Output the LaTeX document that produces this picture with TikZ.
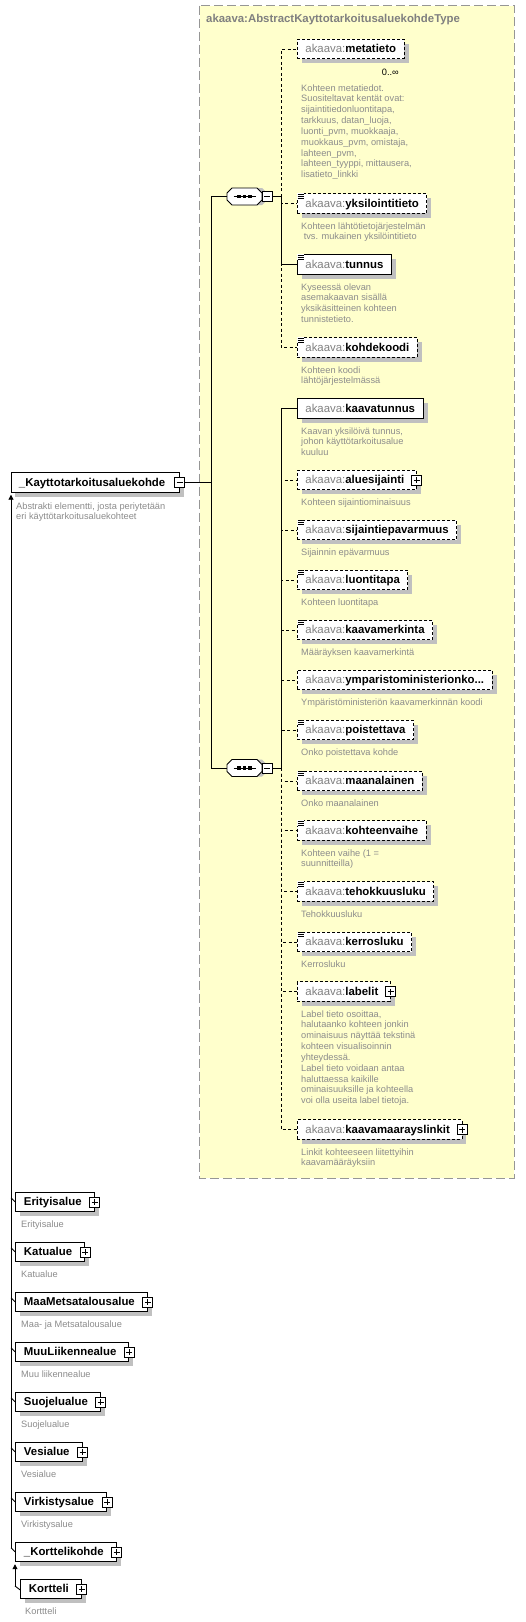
\documentclass[tikz,border=0pt]{standalone}
\usepackage{fontspec}
\setmainfont{Liberation Sans}
\usetikzlibrary{arrows.meta,shadows}
\definecolor{ybg}{RGB}{255,255,204}
\definecolor{ybord}{RGB}{150,150,150}
\definecolor{pfxcol}{RGB}{128,128,128}
\definecolor{desccol}{RGB}{140,140,140}
\definecolor{shadowgray}{RGB}{192,192,192}
\newcommand\akp{{\mdseries\color{pfxcol}akaava:}}
\newcommand\padr{\rule{4pt}{0pt}}
\newcommand\dlines[1]{\begin{tabular}[t]{@{}l@{}}#1\end{tabular}}
\newcommand\simpleicon[1]{\fill[white] ([xshift=0.2pt,yshift=0.3pt]#1.north west) rectangle ++(7,5.5);\foreach \dd in {0.6,2.6,4.6}{\draw[line width=0.7pt] ([xshift=0.6pt,yshift=-\dd pt]#1.north west) -- ++(6.5,0);}}
\newcommand\seqdraw[2]{%
\begin{scope}[shift={(#1,#2)}]
\fill[shadowgray] (-12.5,-3.5) -- (-7.5,-8.5) -- (17.5,-8.5) -- (22.5,-3.5) -- (22.5,3.5) -- (17.5,8.5) -- (-7.5,8.5) -- (-12.5,3.5) -- cycle;
\draw[line width=0.9pt, fill=white] (-17.5,-3.5) -- (-12.5,-8.5) -- (12.5,-8.5) -- (17.5,-3.5) -- (17.5,3.5) -- (12.5,8.5) -- (-12.5,8.5) -- (-17.5,3.5) -- cycle;
\draw[line width=0.9pt] (-11,0) -- (11,0);
\foreach \sx in {-5.5,0,5.5}{\fill (\sx-1.7,-1.7) rectangle (\sx+1.7,1.7);}
\end{scope}}
\tikzset{
 elembase/.style={fill=white, line width=0.9pt, anchor=west, minimum height=19.5pt, inner xsep=8pt, inner ysep=0pt, text height=8.5pt, text depth=1.5pt, font=\fontsize{11.4}{13}\selectfont\bfseries, drop shadow={shadow xshift=4.5pt, shadow yshift=-4.5pt, fill=shadowgray, opacity=1}},
 reqelem/.style={elembase, draw=black},
 optelem/.style={elembase, draw=black, dash pattern=on 3pt off 2pt},
 childelem/.style={reqelem, inner xsep=8.5pt},
 pmbox/.style={draw=black, fill=white, line width=0.8pt, minimum size=10pt, inner sep=0pt, outer sep=0pt},
 plusbox/.style={pmbox, path picture={\draw[line width=0.8pt] ([xshift=2pt]path picture bounding box.west) -- ([xshift=-2pt]path picture bounding box.east) ([yshift=-2pt]path picture bounding box.north) -- ([yshift=2pt]path picture bounding box.south);}},
 minusbox/.style={pmbox, path picture={\draw[line width=0.8pt] ([xshift=2pt]path picture bounding box.west) -- ([xshift=-2pt]path picture bounding box.east);}},
 desctext/.style={anchor=base west, inner sep=0pt, text=desccol, font=\fontsize{9.25}{10.85}\selectfont},
 seqbox/.style={draw=none, minimum width=35pt, minimum height=17pt, inner sep=0pt, outer sep=0pt},
 conn/.style={line width=0.9pt},
 optconn/.style={conn, dash pattern=on 3pt off 2.5pt},
 inh/.style={line width=0.9pt, -{Triangle[length=5pt,width=5pt]}},
}
\begin{document}
\begin{tikzpicture}[x=1pt,y=-1pt]
\useasboundingbox (0,0) rectangle (526,1622);
\fill[white] (0,0) rectangle (526,1622);
% complex type container
\draw[draw=ybord, fill=ybg, line width=1pt, dash pattern=on 9pt off 4pt] (199.5,5.5) rectangle (514,1178);
\node[anchor=base west, inner sep=0pt, text=pfxcol, font=\fontsize{11.4}{13}\selectfont\bfseries] (title) at (206,23) {akaava:AbstractKayttotarkoitusaluekohdeType};

% main element
\node[reqelem] (kayt) at (10.5,482.5) {\_Kayttotarkoitusaluekohde\rule{6pt}{0pt}};
\node[minusbox] (kaytpm) at (kayt.east) {};
\node[desctext] (kaytd) at (16,509) {\dlines{Abstrakti elementti, josta periytetään\\eri käyttötarkoitusaluekohteet}};

% sequences
\seqdraw{244.5}{196.5}
\node[seqbox] (seq1) at (244.5,196.5) {};
\node[minusbox, anchor=west] (seq1pm) at (seq1.east) {};
\seqdraw{244.5}{768}
\node[seqbox] (seq2) at (244.5,768) {};
\node[minusbox, anchor=west] (seq2pm) at (seq2.east) {};

% sequence 1 elements
\node[optelem] (metatieto) at (297,49) {\akp metatieto};
\node[anchor=base east, inner sep=0pt, font=\fontsize{9.25}{11}\selectfont] (mult) at (399,75.5) {0..∞};
\node[desctext] (metatietod) at (301,91) {\dlines{Kohteen metatiedot.\\Suositeltavat kentät ovat:\\sijaintitiedonluontitapa,\\tarkkuus, datan\_luoja,\\luonti\_pvm, muokkaaja,\\muokkaus\_pvm, omistaja,\\lahteen\_pvm,\\lahteen\_tyyppi, mittausera,\\lisatieto\_linkki}};

\node[optelem] (yksilointitieto) at (297,203.5) {\akp yksilointitieto};
\simpleicon{yksilointitieto}
\node[desctext] (yksilointitietod) at (301,229) {\dlines{Kohteen lähtötietojärjestelmän\\\ tvs. mukainen yksilöintitieto}};

\node[reqelem] (tunnus) at (297,264.5) {\akp tunnus};
\simpleicon{tunnus}
\node[desctext] (tunnusd) at (301,290) {\dlines{Kyseessä olevan\\asemakaavan sisällä\\yksikäsitteinen kohteen\\tunnistetieto.}};

\node[optelem] (kohdekoodi) at (297,347.5) {\akp kohdekoodi};
\simpleicon{kohdekoodi}
\node[desctext] (kohdekoodid) at (301,373) {\dlines{Kohteen koodi\\lähtöjärjestelmässä}};

% sequence 2 elements
\node[reqelem] (kaavatunnus) at (297,408.5) {\akp kaavatunnus};
\node[desctext] (kaavatunnusd) at (301,434) {\dlines{Kaavan yksilöivä tunnus,\\johon käyttötarkoitusalue\\kuuluu}};

\node[optelem] (aluesijainti) at (297,480) {\akp aluesijainti\padr};
\node[plusbox] (aluesijaintipm) at (aluesijainti.east) {};
\node[desctext] (aluesijaintid) at (301,505.5) {Kohteen sijaintiominaisuus};

\node[optelem] (sijaintiepavarmuus) at (297,530) {\akp sijaintiepavarmuus};
\simpleicon{sijaintiepavarmuus}
\node[desctext] (sijaintiepavarmuusd) at (301,555.5) {Sijainnin epävarmuus};

\node[optelem] (luontitapa) at (297,580) {\akp luontitapa};
\simpleicon{luontitapa}
\node[desctext] (luontitapad) at (301,605.5) {Kohteen luontitapa};

\node[optelem] (kaavamerkinta) at (297,630) {\akp kaavamerkinta};
\simpleicon{kaavamerkinta}
\node[desctext] (kaavamerkintad) at (301,655.5) {Määräyksen kaavamerkintä};

\node[optelem] (ymparisto) at (297,680) {\akp ymparistoministerionko...};
\node[desctext] (ymparistod) at (301,705.5) {Ympäristöministeriön kaavamerkinnän koodi};

\node[optelem] (poistettava) at (297,730) {\akp poistettava};
\simpleicon{poistettava}
\node[desctext] (poistettavad) at (301,755.5) {Onko poistettava kohde};

\node[optelem] (maanalainen) at (297,781) {\akp maanalainen};
\simpleicon{maanalainen}
\node[desctext] (maanalainend) at (301,806.5) {Onko maanalainen};

\node[optelem] (kohteenvaihe) at (297,830.5) {\akp kohteenvaihe};
\simpleicon{kohteenvaihe}
\node[desctext] (kohteenvaihed) at (301,856) {\dlines{Kohteen vaihe (1 =\\suunnitteilla)}};

\node[optelem] (tehokkuusluku) at (297,891.5) {\akp tehokkuusluku};
\simpleicon{tehokkuusluku}
\node[desctext] (tehokkuuslukud) at (301,917) {Tehokkuusluku};

\node[optelem] (kerrosluku) at (297,942) {\akp kerrosluku};
\simpleicon{kerrosluku}
\node[desctext] (kerroslukud) at (301,967.5) {Kerrosluku};

\node[optelem] (labelit) at (297,991.5) {\akp labelit\padr};
\node[plusbox] (labelitpm) at (labelit.east) {};
\node[desctext] (labelitd) at (301,1017) {\dlines{Label tieto osoittaa,\\halutaanko kohteen jonkin\\ominaisuus näyttää tekstinä\\kohteen visualisoinnin\\yhteydessä.\\Label tieto voidaan antaa\\haluttaessa kaikille\\ominaisuuksille ja kohteella\\voi olla useita label tietoja.}};

\node[optelem] (linkit) at (297,1129.5) {\akp kaavamaarayslinkit\padr};
\node[plusbox] (linkitpm) at (linkit.east) {};
\node[desctext] (linkitd) at (301,1155) {\dlines{Linkit kohteeseen liitettyihin\\kaavamääräyksiin}};

% derived elements
\node[childelem] (eri) at (15,1202) {Erityisalue\padr};
\node[plusbox] (eripm) at (eri.east) {};
\node[desctext] (erid) at (21,1227) {Erityisalue};
\node[childelem] (katu) at (15,1252) {Katualue\padr};
\node[plusbox] (katupm) at (katu.east) {};
\node[desctext] (katud) at (21,1277) {Katualue};
\node[childelem] (maa) at (15,1302) {MaaMetsatalousalue\padr};
\node[plusbox] (maapm) at (maa.east) {};
\node[desctext] (maad) at (21,1327) {Maa- ja Metsatalousalue};
\node[childelem] (muu) at (15,1352) {MuuLiikennealue\padr};
\node[plusbox] (muupm) at (muu.east) {};
\node[desctext] (muud) at (21,1377) {Muu liikennealue};
\node[childelem] (suo) at (15,1402) {Suojelualue\padr};
\node[plusbox] (suopm) at (suo.east) {};
\node[desctext] (suod) at (21,1427) {Suojelualue};
\node[childelem] (vesi) at (15,1452) {Vesialue\padr};
\node[plusbox] (vesipm) at (vesi.east) {};
\node[desctext] (vesid) at (21,1477) {Vesialue};
\node[childelem] (virk) at (15,1502) {Virkistysalue\padr};
\node[plusbox] (virkpm) at (virk.east) {};
\node[desctext] (virkd) at (21,1527) {Virkistysalue};
\node[childelem] (kk) at (15,1552) {\_Korttelikohde\padr};
\node[plusbox] (kkpm) at (kk.east) {};
\node[childelem] (kortteli) at (20,1589) {Kortteli\padr};
\node[plusbox] (korttelipm) at (kortteli.east) {};
\node[desctext] (korttelid) at (25,1614) {Korttteli};

% connectors: main to sequences
\coordinate (tj) at (211.5,482.5);
\draw[conn] (kaytpm.east) -- (tj);
\draw[conn] (seq1.west) -| (tj) |- (seq2.west);

% bus 1
\coordinate (b1) at (281,196.5);
\draw[conn] (seq1pm.east) -- (b1);
\draw[optconn] (b1) |- (metatieto.west);
\draw[optconn] (b1) |- (yksilointitieto.west);
\draw[optconn] (b1) |- (kohdekoodi.west);
\draw[conn] (b1) |- (tunnus.west);

% bus 2
\coordinate (b2) at (281,768);
\draw[conn] (seq2pm.east) -- (b2);
\foreach \e in {aluesijainti,sijaintiepavarmuus,luontitapa,kaavamerkinta,ymparisto,poistettava,maanalainen,kohteenvaihe,tehokkuusluku,kerrosluku,labelit,linkit}{\draw[optconn] (b2) |- (\e.west);}
\draw[conn] (b2) |- (kaavatunnus.west);

% inheritance
\foreach \n in {eri,katu,maa,muu,suo,vesi,virk,kk}{\draw[conn] ([yshift=-10pt]\n.north west) -- ++(-4,-4);}
\coordinate (ihb) at (11,1548);
\draw[inh] (ihb) -- ([yshift=-2pt]kayt.south -| ihb);
\coordinate (ihk) at (15,1586);
\draw[conn] ([yshift=-11pt]kortteli.north west) -- (ihk);
\draw[inh] (ihk) -- ([yshift=-2pt]kk.south -| ihk);
\end{tikzpicture}
\end{document}
